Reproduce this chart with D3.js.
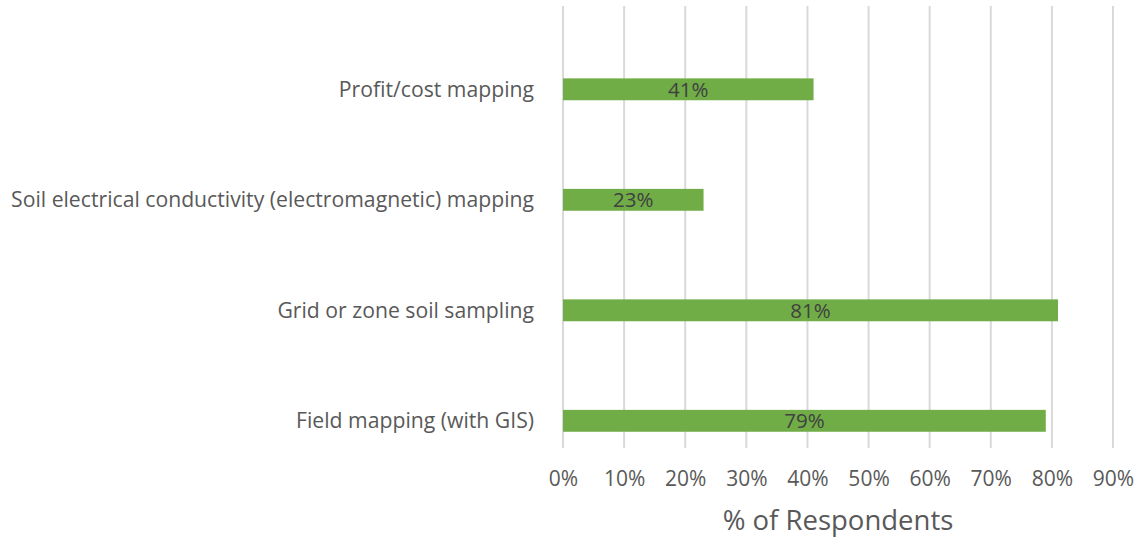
<!DOCTYPE html>
<html>
<head>
<meta charset="utf-8">
<script src="https://cdn.jsdelivr.net/npm/d3@7"></script>
<style>
  body { margin: 0; background: #fff; }
  text { font-family: "Open Sans", Lato, sans-serif; }
</style>
</head>
<body>
<svg id="chart"></svg>
<script>
// categories top to bottom, values in %
var categories = ["Profit/cost mapping", "Soil electrical conductivity (electromagnetic) mapping", "Grid or zone soil sampling", "Field mapping (with GIS)"];
var values = [41, 23, 81, 79];
var ticks = [0, 10, 20, 30, 40, 50, 60, 70, 80, 90];

var data = categories.map(function(c, i) { return { name: c, value: values[i] }; });

var width = 1138, height = 539;
var margin = { top: 6, right: 25, bottom: 91, left: 563 };

var svg = d3.select("#chart")
    .attr("width", width)
    .attr("height", height);

var g = svg.append("g")
    .attr("transform", "translate(" + margin.left + "," + margin.top + ")");

var innerW = width - margin.left - margin.right;
var innerH = height - margin.top - margin.bottom;

var x = d3.scaleLinear().domain([0, 90]).range([0, innerW]);
var y = d3.scaleBand().domain(categories).range([0, innerH]);

// bar sits off-centre inside its band (like the original)
var barH = y.bandwidth() * 0.198;
var barOffset = y.bandwidth() * 0.655;

// gridlines
g.selectAll(".grid")
    .data(ticks)
    .enter().append("line")
    .attr("x1", function(d) { return x(d); })
    .attr("x2", function(d) { return x(d); })
    .attr("y1", 0)
    .attr("y2", innerH)
    .style("stroke", "#d9d9d9")
    .style("stroke-width", 2);

// bars
g.selectAll(".bar")
    .data(data)
    .enter().append("rect")
    .attr("x", x(0))
    .attr("y", function(d) { return y(d.name) + barOffset; })
    .attr("width", function(d) { return x(d.value) - x(0); })
    .attr("height", barH)
    .style("fill", "#70ad47");

// data labels
g.selectAll(".lbl")
    .data(data)
    .enter().append("text")
    .attr("x", function(d) { return x(d.value / 2); })
    .attr("y", function(d) { return y(d.name) + barOffset + barH / 2; })
    .attr("dy", "0.36em")
    .style("text-anchor", "middle")
    .style("fill", "#404040")
    .style("font-size", "20.5px")
    .text(function(d) { return d.value + "%"; });

// category labels
g.selectAll(".cat")
    .data(data)
    .enter().append("text")
    .attr("x", -29)
    .attr("y", function(d) { return y(d.name) + barOffset + barH / 2; })
    .attr("dy", "0.36em")
    .style("text-anchor", "end")
    .style("fill", "#595959")
    .style("font-size", "21.2px")
    .text(function(d) { return d.name; });

// x axis
var xAxis = g.append("g")
    .attr("transform", "translate(0," + innerH + ")")
    .call(d3.axisBottom(x).tickValues(ticks).tickSize(0).tickPadding(23).tickFormat(function(d) { return d + "%"; }));
xAxis.select(".domain").remove();
xAxis.selectAll("text")
    .style("font-family", "'Open Sans', Lato, sans-serif")
    .style("font-size", "21px")
    .style("fill", "#595959");

// axis title
g.append("text")
    .attr("x", innerW / 2)
    .attr("y", innerH + 82)
    .style("text-anchor", "middle")
    .style("fill", "#595959")
    .style("font-size", "27.5px")
    .text("% of Respondents");
</script>
</body>
</html>
